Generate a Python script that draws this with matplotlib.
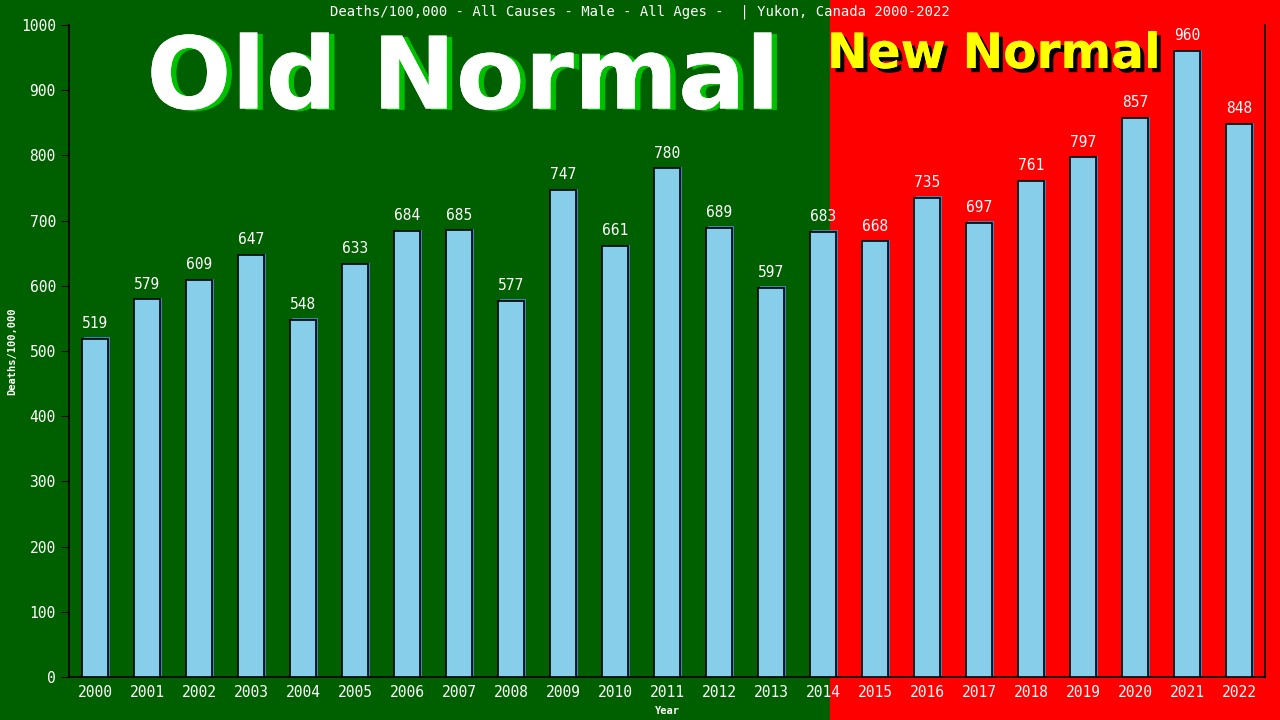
import matplotlib.pyplot as plt
from matplotlib.patches import Rectangle
import matplotlib.patheffects as pe

years = list(range(2000, 2023))
deaths = [519, 579, 609, 647, 548, 633, 684, 685, 577, 747, 661, 780,
          689, 597, 683, 668, 735, 697, 761, 797, 857, 960, 848]

GREEN = "#006000"
RED = "#ff0000"
BAR = "#87ceeb"
MONO = "DejaVu Sans Mono"

fig = plt.figure(figsize=(12.8, 7.2), dpi=100)
fig.patch.set_facecolor(GREEN)
# red "new normal" half of the background, kept behind the axes
red = Rectangle((830 / 1280, 0), 1 - 830 / 1280, 1,
                transform=fig.transFigure, color=RED, zorder=-5)
fig.add_artist(red)

ax = fig.add_axes([69 / 1280, 43 / 720, (1265 - 69) / 1280, (677 - 25) / 720])
ax.patch.set_alpha(0)

x = list(range(len(years)))
# blue shadow slightly offset, then the bar itself
ax.bar([i + 0.03 for i in x], [d + 2 for d in deaths], width=0.5,
       color="#4682b4", zorder=2)
ax.bar(x, deaths, width=0.5, color=BAR, edgecolor="black", linewidth=1.2,
       zorder=3)

for i, d in zip(x, deaths):
    ax.text(i, d + 12, str(d), ha="center", va="bottom", color="white",
            fontsize=10.5, family=MONO, zorder=4)

ax.set_xlim(-0.5, len(years) - 0.5)
ax.set_ylim(0, 1000)
ax.set_yticks(range(0, 1001, 100))
ax.set_xticks(x)
ax.set_xticklabels(years)
ax.tick_params(axis="y", colors="black", labelcolor="white", length=6,
               direction="out", labelsize=10.5)
ax.tick_params(axis="x", length=0, labelcolor="white", labelsize=10.5, pad=6)
for lab in ax.get_xticklabels() + ax.get_yticklabels():
    lab.set_family(MONO)

ax.spines["top"].set_visible(False)
for s in ("left", "bottom", "right"):
    ax.spines[s].set_color("black")
    ax.spines[s].set_linewidth(1.2)

ax.set_xlabel("Year", color="white", fontsize=7.5, fontweight="bold",
              family=MONO, labelpad=4)
fig.text(12 / 1280, 1 - 351 / 720, "Deaths/100,000", rotation=90,
         ha="center", va="center", color="white", fontsize=7.5,
         fontweight="bold", family=MONO)

fig.text(640 / 1280, 1 - 12 / 720,
         "Deaths/100,000 - All Causes - Male - All Ages -  | Yukon, Canada 2000-2022",
         ha="center", va="center", color="white", fontsize=10, family=MONO)

fig.text(463 / 1280, 1 - 81 / 720, "Old Normal", ha="center", va="center",
         color="white", fontsize=72, fontweight="bold", family="DejaVu Sans",
         path_effects=[pe.withSimplePatchShadow(offset=(4, -1),
                                                shadow_rgbFace="#00c000",
                                                alpha=1),
                       pe.Normal()])
fig.text(994 / 1280, 1 - 54 / 720, "New Normal", ha="center", va="center",
         color="yellow", fontsize=35, fontweight="bold", family="DejaVu Sans",
         path_effects=[pe.withSimplePatchShadow(offset=(3, -3),
                                                shadow_rgbFace="black",
                                                alpha=1),
                       pe.Normal()])

fig.savefig("out.png", dpi=100, facecolor=fig.get_facecolor())
